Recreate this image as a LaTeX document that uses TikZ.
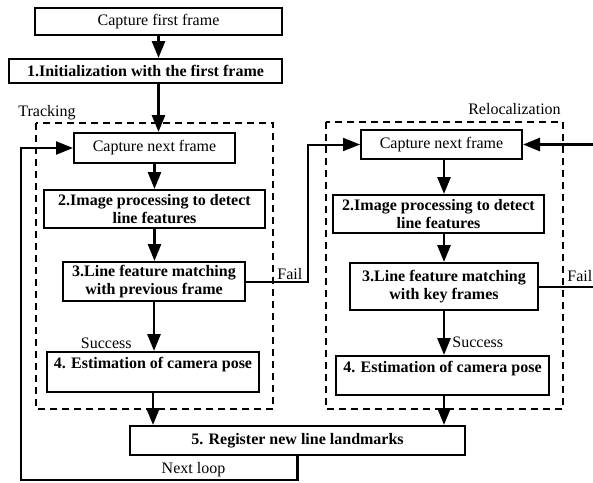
\documentclass[tikz,border=0pt]{standalone}
\usepackage{fontspec}
\setmainfont{Liberation Serif}
\usetikzlibrary{arrows.meta}

\begin{document}
\begin{tikzpicture}[x=0.5pt,y=-0.5pt,
  font=\fontsize{8}{9}\selectfont,
  blk/.style={draw, line width=1pt, inner sep=0pt, align=center},
  blkb/.style={blk, font=\fontsize{8}{9}\selectfont\bfseries},
  arr/.style={line width=1.4pt, -{Triangle[length=8.5pt,width=6.5pt]}},
  link/.style={line width=1pt},
  dashframe/.style={line width=1pt, dash pattern=on 3.5pt off 2.5pt},
  lbl/.style={inner sep=1pt}]
\useasboundingbox (0,0) rectangle (593,482);
% draws boxes
\node[blk, minimum width=123.5pt, minimum height=13.5pt] (first) at (158.5,21.5) {Capture first frame};
\node[blkb, minimum width=136.5pt, minimum height=12pt] (init) at (145.5,71) {1.Initialization with the first frame};
\node[blk, minimum width=80.5pt, minimum height=15pt] (capL) at (154.5,148) {Capture next frame};
\node[blkb, minimum width=110.5pt, minimum height=19pt] (procL) at (154.5,209) {2.Image processing to detect\\line features};
\node[blkb, minimum width=91pt, minimum height=19.5pt] (matchL) at (154,281.5) {3.Line feature matching\\with previous frame};
\node[blkb, minimum width=106pt, minimum height=20pt] (poseL) at (153,372) {4. Estimation of camera pose\\~};
\node[blk, minimum width=80.5pt, minimum height=14.5pt] (capR) at (441.5,144.5) {Capture next frame};
\node[blkb, minimum width=105.5pt, minimum height=19pt] (procR) at (438.5,214) {2.Image processing to detect\\line features};
\node[blkb, minimum width=94pt, minimum height=23.5pt] (matchR) at (444,286.5) {3.Line feature matching\\with key frames};
\node[blkb, minimum width=106.5pt, minimum height=19.5pt] (poseR) at (442.5,375.5) {4. Estimation of camera pose\\~};
\node[blkb, minimum width=167.5pt, minimum height=14.5pt] (reg) at (297.5,440.5) {5. Register new line landmarks};
% dashed areas
\draw[dashframe] (36,123) rectangle (273,409);
\draw[dashframe] (326,122) rectangle (563,409);
\node[lbl, anchor=west] (trk) at (16,113) {Tracking};
\node[lbl] (reloc) at (514.5,109) {Relocalization};
% free ends
\coordinate (inR) at (593,144.5);
\coordinate (outR) at (593,286.5);
\coordinate (loopB) at (21,480);
% draws arrows
\draw[arr] (first.south) -- (first.south |- init.north);
\draw[arr] (init.south -| first.south) -- (first.south |- capL.north);
\draw[arr] (capL.south) -- (capL.south |- procL.north);
\draw[arr] (procL.south) -- (procL.south |- matchL.north);
\draw[arr] (matchL.south) -- (matchL.south |- poseL.north);
\draw[arr] (poseL.south) -- (poseL.south |- reg.north);
\draw[arr] (capR.south -| matchR.south) -- (matchR.south |- procR.north);
\draw[arr] (procR.south -| matchR.south) -- (matchR.north);
\draw[arr] (matchR.south) -- (matchR.south |- poseR.north);
\draw[arr] (poseR.south -| matchR.south) -- (matchR.south |- reg.north);
\draw[arr] (inR) -- (capR.east);
% fail and loop links
\draw[arr, line width=1pt] (matchL.east) -- ++(62,0) |- (capR.west);
\draw[link] (matchR.east) -- (outR);
\draw[arr, line width=1.2pt] (reg.south) |- (loopB) |- (capL.west);
% labels
\node[lbl, anchor=south west] (failL) at (275,282) {Fail};
\node[lbl, anchor=south west] (failR) at (565,284) {Fail};
\node[lbl, anchor=east] (succL) at (134,343) {Success};
\node[lbl, anchor=west] (succR) at (450,342) {Success};
\node[lbl] (nxt) at (193.5,470) {Next loop};
\end{tikzpicture}
\end{document}
